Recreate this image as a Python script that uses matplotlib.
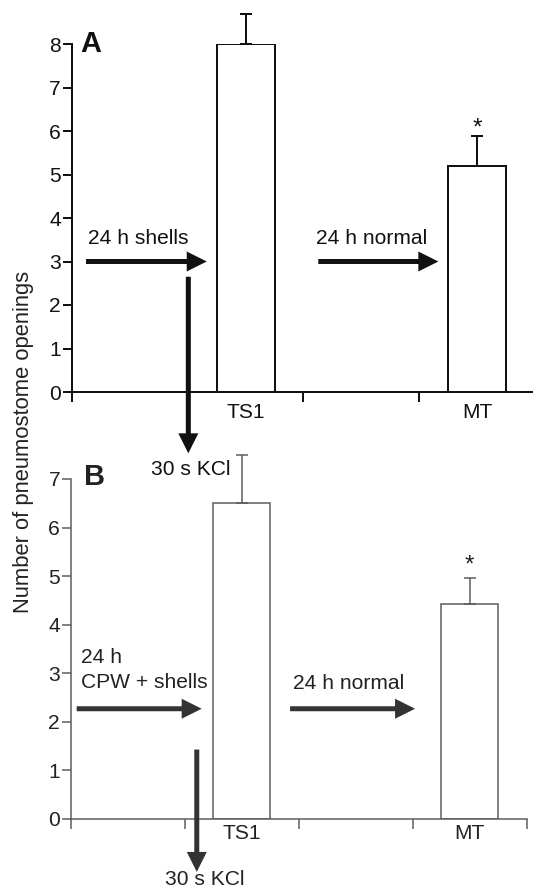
import matplotlib
matplotlib.use('Agg')
from matplotlib import pyplot as plt

plt.rcParams['font.family'] = ['Liberation Sans', 'DejaVu Sans']

# data
categories = ['TS1', 'MT']
a_means = [8.0, 5.2]
a_err = [0.69, 0.69]
b_means = [6.5, 4.43]
b_err = [1.0, 0.54]
a_yticks = [0, 1, 2, 3, 4, 5, 6, 7, 8]
b_yticks = [0, 1, 2, 3, 4, 5, 6, 7]

DPI = 72
fig = plt.figure(figsize=(533 / DPI, 889 / DPI), dpi=DPI)

FS = 21


def setup_axes(ax, means, err, yticks, line_col, lw, text_col, pad_x):
    x = [1.5, 3.5]  # slot centres, empty slots in between hold arrows
    ax.bar(x, means, width=0.5, facecolor='white', edgecolor=line_col,
           linewidth=lw, zorder=2)
    ax.errorbar(x, means, yerr=[[0, 0], err], fmt='none', ecolor=line_col,
                elinewidth=lw, capsize=6, capthick=lw, clip_on=False, zorder=2)
    ax.set_xlim(0, 4)
    ax.set_ylim(0, yticks[-1])
    for s in ['top', 'right']:
        ax.spines[s].set_visible(False)
    for s in ['left', 'bottom']:
        ax.spines[s].set_color(line_col)
        ax.spines[s].set_linewidth(lw)
    ax.set_yticks(yticks)
    ax.set_xticks([0, 1, 2, 3, 4])
    ax.set_xticklabels([])
    ax.set_xticks(x, minor=True)
    ax.set_xticklabels(categories, minor=True)
    ax.tick_params(axis='y', direction='out', length=9, width=lw, pad=2,
                   color=line_col, labelcolor=text_col, labelsize=FS)
    ax.tick_params(axis='x', which='major', direction='out', length=9.5,
                   width=lw, color=line_col)
    ax.tick_params(axis='x', which='minor', length=0, pad=pad_x,
                   labelcolor=text_col, labelsize=FS)
    ax.set_facecolor('none')


def arrow(ax, start, tip, col):
    ax.annotate('', xy=tip, xytext=start, annotation_clip=False,
                arrowprops=dict(arrowstyle='simple,head_length=20,head_width=20,tail_width=5',
                                mutation_scale=1, shrinkA=0, shrinkB=0,
                                color=col, lw=0, clip_on=False),
                zorder=6)


# panel A
axA = fig.add_axes([72 / 533, (889 - 392) / 889, 463 / 533, 348 / 889])
setup_axes(axA, a_means, a_err, a_yticks, '#111111', 2.0, '#111111', 11)
axA.text(0.072, 7.82, 'A', fontsize=29, fontweight='bold', color='#111111')
axA.text(0.136, 3.40, '24 h shells', fontsize=FS, color='#111111')
axA.text(2.108, 3.40, '24 h normal', fontsize=FS, color='#111111')
arrow(axA, (0.121, 3.0), (1.164, 3.0), '#111111')
arrow(axA, (2.128, 3.0), (3.165, 3.0), '#111111')
arrow(axA, (1.005, 2.65), (1.005, -1.41), '#111111')
axA.text(1.024, -1.908, '30 s KCl', fontsize=FS, ha='center', color='#111111')
axA.text(3.5, 5.93, '*', fontsize=24, ha='center', color='#111111')

# panel B
axB = fig.add_axes([71 / 533, (889 - 819) / 889, 455.7 / 533, 340 / 889])
setup_axes(axB, b_means, b_err, b_yticks, '#5a5a5a', 1.5, '#222222', 5)
axB.text(0.117, 6.87, 'B', fontsize=29, fontweight='bold', color='#222222')
axB.text(0.088, 3.22, '24 h', fontsize=FS, color='#222222')
axB.text(0.088, 2.70, 'CPW + shells', fontsize=FS, color='#222222')
axB.text(1.946, 2.67, '24 h normal', fontsize=FS, color='#222222')
arrow(axB, (0.05, 2.27), (1.147, 2.27), '#333333')
arrow(axB, (1.923, 2.27), (3.02, 2.27), '#333333')
arrow(axB, (1.104, 1.43), (1.104, -1.09), '#333333')
axB.text(1.177, -1.35, '30 s KCl', fontsize=FS, ha='center', color='#222222')
axB.text(3.5, 5.10, '*', fontsize=24, ha='center', color='#222222')

fig.text(24 / 533, 1 - 442 / 889, 'Number of pneumostome openings',
         rotation=90, ha='center', va='center', fontsize=22, color='#222222')

fig.savefig('out.png', dpi=DPI, facecolor='white')
